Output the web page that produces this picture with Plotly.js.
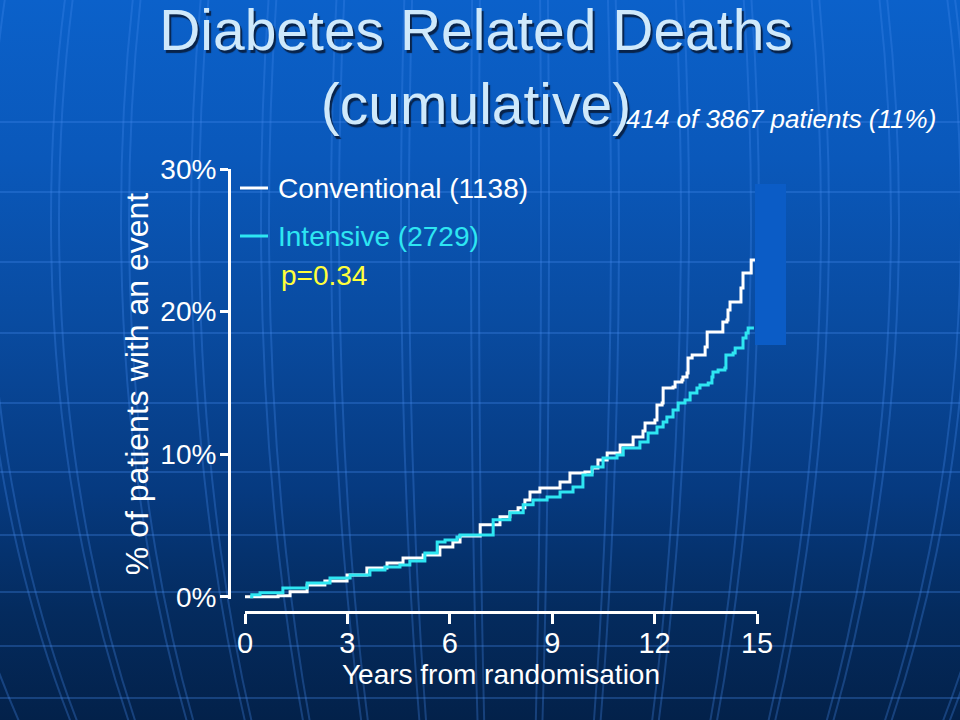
<!DOCTYPE html>
<html>
<head>
<meta charset="utf-8">
<script src="https://cdn.plot.ly/plotly-3.0.1.min.js"></script>
<style>
  html, body { margin:0; padding:0; width:960px; height:720px; overflow:hidden; }
  body { background: linear-gradient(to bottom, #0b61ca 0%, #0a58ba 22%, #094ba0 45%, #063a80 68%, #042b5e 85%, #03214a 100%); position:relative; }
  #bg { position:absolute; left:0; top:0; width:960px; height:720px; }
  #chart { position:absolute; left:0; top:0; width:960px; height:720px; }
  .gtitle { text-shadow: 2px 3px 1px #08234a; }
</style>
</head>
<body>
<svg id="bg" width="960" height="720"></svg>
<div id="chart"></div>
<script>
// ---- data ----
const conventionalYears = [0, 0.88, 0.97, 1.32, 1.82, 2.34, 2.99, 3.57, 4.16, 4.63, 5.22, 5.71, 6.09, 6.30, 6.89, 7.47, 7.76, 8.00, 8.20, 8.35, 8.64, 9.14, 9.23, 9.52, 9.96, 10.17, 10.34, 10.61, 10.99, 11.37, 11.66, 11.72, 12.01, 12.07, 12.22, 12.25, 12.54, 12.60, 12.80, 12.83, 12.95, 12.98, 13.10, 13.42, 13.48, 13.54, 13.92, 14.00, 14.12, 14.15, 14.21, 14.50, 14.53, 14.59, 14.79, 14.83, 14.94];
const conventionalPct   = [0, 0, 0.07, 0.35, 0.84, 1.12, 1.54, 2.03, 2.38, 2.73, 2.94, 3.50, 3.85, 4.27, 5.05, 5.61, 5.96, 6.24, 6.80, 7.36, 7.64, 7.64, 8.06, 8.69, 8.76, 9.04, 9.60, 10.09, 10.65, 11.21, 11.63, 12.19, 12.40, 13.45, 13.59, 14.65, 14.72, 15.07, 15.21, 15.42, 15.70, 16.75, 16.96, 16.96, 17.52, 18.57, 18.57, 19.27, 19.41, 20.11, 20.67, 20.67, 21.65, 22.71, 22.71, 23.62, 23.62];

const intensiveYears = [0.15, 0.20, 0.44, 1.11, 1.82, 2.49, 3.08, 3.66, 4.10, 4.54, 4.83, 5.27, 5.63, 5.86, 6.21, 6.30, 7.27, 7.76, 8.15, 8.44, 8.85, 9.23, 9.61, 9.90, 10.17, 10.49, 10.90, 11.08, 11.57, 11.81, 12.07, 12.25, 12.36, 12.54, 12.69, 12.89, 13.04, 13.24, 13.33, 13.57, 13.68, 13.71, 13.86, 14.06, 14.09, 14.30, 14.36, 14.56, 14.59, 14.68, 14.74, 14.91];
const intensivePct   = [0, 0.14, 0.28, 0.63, 0.98, 1.33, 1.54, 1.89, 2.10, 2.24, 2.52, 3.08, 3.85, 3.99, 4.20, 4.34, 5.40, 5.89, 6.45, 6.80, 7.01, 7.36, 7.71, 8.55, 9.11, 9.74, 9.95, 10.44, 10.86, 11.49, 11.91, 12.26, 12.61, 13.10, 13.59, 13.81, 14.30, 14.65, 14.86, 15.00, 15.42, 15.77, 15.91, 16.05, 16.96, 17.10, 17.45, 17.45, 18.15, 18.50, 18.85, 18.85];

const seriesNames = ['Conventional (1138)', 'Intensive (2729)'];
const xTickVals = [0, 3, 6, 9, 12, 15];
const yTickVals = [0, 10, 20, 30];
const yTickText = ['0%', '10%', '20%', '30%'];
const pValueText = 'p=0.34';
const summaryText = '414 of 3867 patients (11%)';

// ---- background decoration (globe grid) ----
(function(){
  const svg = document.getElementById('bg');
  const ns = 'http://www.w3.org/2000/svg';
  const stroke = 'rgba(70,140,240,0.3)';
  [122,192,262,333,403,472,535,592,646,698].forEach(y => {
    const l = document.createElementNS(ns,'line');
    l.setAttribute('x1',0); l.setAttribute('x2',960);
    l.setAttribute('y1',y); l.setAttribute('y2',y);
    l.setAttribute('stroke',stroke); l.setAttribute('stroke-width','2');
    svg.appendChild(l);
  });
  const cx = 510, cy = 220, R = 900;
  for (let k = -8; k <= 8; k++) {
    const off = Math.abs(k*70 + 31);
    if (off >= R) continue;
    const e = document.createElementNS(ns,'ellipse');
    e.setAttribute('cx',cx); e.setAttribute('cy',cy);
    e.setAttribute('rx',off); e.setAttribute('ry',R);
    e.setAttribute('fill','none'); e.setAttribute('stroke',stroke); e.setAttribute('stroke-width','2');
    svg.appendChild(e);
  }
})();

// ---- chart ----
const W = 960, H = 720;
const px = x => x / W;
const py = y => 1 - y / H;
const font = '"Liberation Sans", Arial, sans-serif';
const white = '#ffffff', cyan = '#2ee6f2', yellow = '#ffff3a';

const traces = [
  { x: conventionalYears, y: conventionalPct, name: seriesNames[0], type: 'scatter', mode: 'lines',
    line: { shape: 'hv', color: white, width: 3 }, showlegend: false },
  { x: intensiveYears, y: intensivePct, name: seriesNames[1], type: 'scatter', mode: 'lines',
    line: { shape: 'hv', color: cyan, width: 3 }, showlegend: false }
];

const layout = {
  width: W, height: H,
  margin: { l: 0, r: 0, t: 0, b: 0, pad: 0 },
  paper_bgcolor: 'rgba(0,0,0,0)',
  plot_bgcolor: 'rgba(0,0,0,0)',
  title: {
    text: 'Diabetes Related Deaths<br>(cumulative)',
    font: { family: font, size: 57, color: '#cfe9fb' },
    x: px(476), xanchor: 'center', xref: 'paper',
    y: py(50), yanchor: 'top', yref: 'paper'
  },
  xaxis: {
    domain: [px(245), px(757)], range: [0, 15],
    tickvals: xTickVals, ticks: 'outside', ticklen: 10, tickwidth: 3, tickcolor: white,
    ticklabelstandoff: -6,
    showline: true, linecolor: white, linewidth: 3,
    showgrid: false, zeroline: false,
    anchor: 'free', position: py(612),
    tickfont: { family: font, size: 29, color: white },
    title: { text: 'Years from randomisation', font: { family: font, size: 28, color: white }, standoff: 3 },
    fixedrange: true
  },
  yaxis: {
    domain: [py(599), py(169)], range: [-0.15, 30],
    tickvals: yTickVals, ticktext: yTickText, ticks: 'outside', ticklen: 8, tickwidth: 3, tickcolor: white,
    ticklabelstandoff: -2,
    showline: true, linecolor: white, linewidth: 3,
    showgrid: false, zeroline: false,
    anchor: 'free', position: px(229),
    tickfont: { family: font, size: 28, color: white },
    title: { text: '% of patients with an event', font: { family: font, size: 32, color: white }, standoff: 1 },
    fixedrange: true
  },
  shapes: [
    { type: 'line', xref: 'paper', yref: 'paper', x0: px(240), x1: px(268), y0: py(188), y1: py(188), line: { color: white, width: 3 } },
    { type: 'line', xref: 'paper', yref: 'paper', x0: px(240), x1: px(268), y0: py(236), y1: py(236), line: { color: cyan, width: 3 } },
    { type: 'rect', xref: 'paper', yref: 'paper', x0: px(755), x1: px(786), y0: py(345), y1: py(184), fillcolor: '#0b5cc6', line: { width: 0 }, layer: 'below' }
  ],
  annotations: [
    { text: seriesNames[0], xref: 'paper', yref: 'paper', x: px(276), y: py(189), xanchor: 'left', yanchor: 'middle', showarrow: false,
      font: { family: font, size: 28, color: white } },
    { text: seriesNames[1], xref: 'paper', yref: 'paper', x: px(276), y: py(237), xanchor: 'left', yanchor: 'middle', showarrow: false,
      font: { family: font, size: 28, color: cyan } },
    { text: pValueText, xref: 'paper', yref: 'paper', x: px(279), y: py(275), xanchor: 'left', yanchor: 'middle', showarrow: false,
      font: { family: font, size: 28, color: yellow } },
    { text: '<i>' + summaryText + '</i>', xref: 'paper', yref: 'paper', x: px(938), y: py(119), xanchor: 'right', yanchor: 'middle', showarrow: false,
      font: { family: font, size: 26, color: white } }
  ],
  showlegend: false
};

Plotly.newPlot('chart', traces, layout, { displayModeBar: false, staticPlot: true });
</script>
</body>
</html>
